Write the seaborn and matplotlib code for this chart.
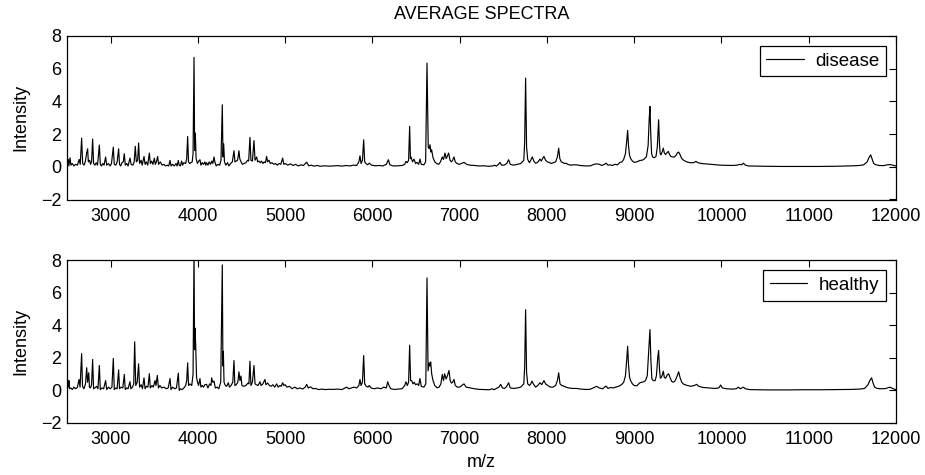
import pandas as pd
import matplotlib.pyplot as plt
import seaborn as sns

# =========================
# dados (m/z, intensidade)
# =========================
disease_points = [
    (2500, 0.1), (2515, 0.45), (2522, 0.05), (2535, 0.55), (2545, 0.1), (2560, 0.2), (2580, 0.05),
    (2600, 0.15), (2620, 0.1), (2640, 0.45), (2652, 0.15), (2668, 1.75), (2680, 0.2), (2695, 0.1),
    (2710, 0.3), (2726, 0.85), (2737, 1.1), (2745, 0.3), (2760, 0.4), (2770, 0.15), (2782, 0.3),
    (2794, 1.7), (2805, 0.2), (2820, 0.1), (2835, 0.25), (2850, 0.1), (2871, 1.33), (2882, 0.15),
    (2895, 0.05), (2910, 0.2), (2925, 0.1), (2943, 0.6), (2955, 0.1), (2975, 0.2), (2995, 0.05),
    (3010, 0.2), (3031, 1.2), (3042, 0.15), (3060, 0.1), (3075, 0.3), (3092, 1.1), (3102, 0.15),
    (3115, 0.05), (3130, 0.25), (3145, 0.3), (3157, 0.8), (3168, 0.1), (3185, 0.2), (3200, 0.05),
    (3222, 0.53), (3235, 0.15), (3255, 0.1), (3270, 0.3), (3283, 1.25), (3295, 0.3), (3310, 0.4),
    (3321, 1.45), (3332, 0.2), (3350, 0.4), (3362, 0.1), (3383, 0.63), (3395, 0.15), (3410, 0.3),
    (3425, 0.1), (3444, 0.84), (3455, 0.2), (3470, 0.35), (3485, 0.15), (3501, 0.53), (3512, 0.15),
    (3525, 0.3), (3539, 0.63), (3550, 0.15), (3570, 0.3), (3590, 0.1), (3610, 0.15), (3630, 0.05),
    (3650, 0.1), (3665, 0.05), (3681, 0.39), (3692, 0.05), (3710, 0.15), (3730, 0.05), (3750, 0.2),
    (3762, 0.05), (3776, 0.39), (3786, 0.1), (3800, 0.05), (3814, 0.35), (3825, 0.1), (3840, 0.25),
    (3860, 0.2), (3872, 0.5), (3883, 1.85), (3893, 0.3), (3905, 0.2), (3920, 0.25), (3935, 0.3),
    (3945, 0.8), (3956, 6.69), (3963, 1.0), (3971, 2.06), (3980, 0.5), (3995, 0.2), (4010, 0.35),
    (4024, 0.43), (4035, 0.1), (4050, 0.25), (4065, 0.15), (4080, 0.3), (4090, 0.1), (4100, 0.25),
    (4115, 0.1), (4130, 0.3), (4145, 0.15), (4160, 0.35), (4172, 0.2), (4185, 0.6), (4195, 0.3),
    (4210, 0.05), (4230, 0.15), (4250, 0.1), (4265, 0.4), (4280, 3.79), (4288, 0.6), (4296, 1.4),
    (4305, 0.3), (4320, 0.1), (4340, 0.25), (4355, 0.05), (4375, 0.2), (4395, 0.3), (4414, 0.98),
    (4425, 0.3), (4440, 0.35), (4455, 0.4), (4471, 0.98), (4480, 0.5), (4495, 0.3), (4510, 0.15),
    (4530, 0.2), (4550, 0.25), (4570, 0.4), (4582, 0.35), (4597, 1.8), (4608, 0.4), (4625, 0.35),
    (4643, 1.6), (4655, 0.4), (4674, 0.6), (4685, 0.3), (4700, 0.35), (4715, 0.25), (4730, 0.35),
    (4745, 0.2), (4760, 0.3), (4775, 0.25), (4788, 0.63), (4800, 0.3), (4815, 0.4), (4830, 0.2),
    (4850, 0.25), (4870, 0.15), (4890, 0.2), (4910, 0.1), (4930, 0.2), (4950, 0.15), (4972, 0.53),
    (4985, 0.15), (5000, 0.2), (5030, 0.1), (5060, 0.18), (5090, 0.08), (5120, 0.15), (5150, 0.05),
    (5180, 0.12), (5210, 0.08), (5247, 0.28), (5270, 0.06), (5300, 0.1), (5330, 0.04), (5370, 0.08),
    (5400, 0.03), (5450, 0.06), (5500, 0.04), (5550, 0.05), (5600, 0.07), (5650, 0.04), (5700, 0.08),
    (5740, 0.05), (5780, 0.1), (5820, 0.08), (5845, 0.3), (5858, 0.67), (5870, 0.2), (5886, 0.4),
    (5900, 1.65), (5912, 0.3), (5927, 0.2), (5945, 0.12), (5965, 0.22), (5990, 0.1), (6030, 0.06),
    (6080, 0.08), (6120, 0.05), (6160, 0.15), (6183, 0.43), (6200, 0.12), (6240, 0.05), (6290, 0.06),
    (6340, 0.08), (6370, 0.15), (6385, 0.33), (6400, 0.25), (6415, 0.4), (6427, 2.47), (6436, 0.5),
    (6442, 0.6), (6460, 0.3), (6477, 0.47), (6495, 0.2), (6510, 0.27), (6530, 0.15), (6545, 0.47),
    (6560, 0.15), (6590, 0.12), (6610, 0.3), (6626, 6.34), (6640, 1.2), (6650, 1.1), (6660, 1.35),
    (6670, 0.9), (6679, 1.04), (6695, 0.55), (6715, 0.3), (6736, 0.2), (6760, 0.15), (6780, 0.3),
    (6801, 0.6), (6815, 0.45), (6832, 0.84), (6845, 0.5), (6855, 0.6), (6874, 0.84), (6890, 0.4),
    (6905, 0.3), (6920, 0.4), (6935, 0.6), (6950, 0.3), (6970, 0.2), (6995, 0.15), (7020, 0.2),
    (7050, 0.27), (7080, 0.15), (7120, 0.1), (7170, 0.08), (7220, 0.05), (7280, 0.06), (7330, 0.03),
    (7380, 0.05), (7400, 0.1), (7420, 0.04), (7445, 0.15), (7462, 0.27), (7480, 0.1), (7510, 0.1),
    (7540, 0.2), (7561, 0.43), (7580, 0.15), (7620, 0.1), (7660, 0.15), (7700, 0.2), (7735, 0.4),
    (7745, 1.5), (7756, 5.42), (7767, 1.2), (7780, 0.45), (7800, 0.25), (7815, 0.4), (7833, 0.6),
    (7850, 0.35), (7870, 0.22), (7890, 0.25), (7905, 0.35), (7921, 0.47), (7935, 0.35), (7950, 0.5),
    (7966, 0.63), (7985, 0.4), (8005, 0.3), (8025, 0.27), (8050, 0.2), (8075, 0.25), (8100, 0.3),
    (8120, 0.6), (8135, 1.14), (8148, 0.5), (8165, 0.3), (8185, 0.25), (8200, 0.2), (8218, 0.22),
    (8240, 0.15), (8270, 0.1), (8300, 0.12), (8341, 0.12), (8380, 0.08), (8420, 0.06), (8460, 0.05),
    (8500, 0.06), (8540, 0.15), (8570, 0.18), (8600, 0.15), (8630, 0.08), (8660, 0.15), (8677, 0.22),
    (8700, 0.1), (8725, 0.12), (8750, 0.08), (8780, 0.15), (8810, 0.12), (8837, 0.27), (8860, 0.3),
    (8880, 0.45), (8900, 0.8), (8915, 1.6), (8925, 2.22), (8935, 1.3), (8947, 0.7), (8960, 0.5),
    (8980, 0.35), (9000, 0.27), (9030, 0.3), (9066, 0.39), (9090, 0.4), (9110, 0.45), (9124, 0.53),
    (9140, 0.6), (9160, 1.3), (9172, 2.9), (9181, 3.69), (9190, 2.0), (9200, 0.8), (9212, 0.6),
    (9230, 0.55), (9250, 0.63), (9265, 1.2), (9280, 2.87), (9290, 1.4), (9298, 0.8), (9307, 0.73),
    (9320, 0.9), (9334, 1.14), (9345, 0.85), (9360, 0.75), (9375, 0.85), (9391, 0.94), (9405, 0.75),
    (9420, 0.63), (9440, 0.6), (9460, 0.6), (9480, 0.7), (9495, 0.85), (9510, 0.9), (9525, 0.75),
    (9545, 0.5), (9570, 0.39), (9600, 0.3), (9640, 0.25), (9680, 0.25), (9708, 0.33), (9730, 0.25),
    (9770, 0.2), (9820, 0.18), (9880, 0.15), (9940, 0.12), (9983, 0.1), (10050, 0.09), (10120, 0.08),
    (10180, 0.1), (10210, 0.15), (10230, 0.12), (10251, 0.22), (10275, 0.1), (10310, 0.05),
    (10400, 0.04), (10500, 0.03), (10700, 0.02), (10900, 0.02), (11100, 0.02), (11300, 0.03),
    (11450, 0.05), (11511, 0.06), (11580, 0.08), (11630, 0.12), (11670, 0.3), (11690, 0.55),
    (11710, 0.73), (11725, 0.5), (11745, 0.2), (11770, 0.12), (11810, 0.08), (11860, 0.07),
    (11900, 0.12), (11931, 0.14), (11960, 0.1), (12000, 0.05),
]

healthy_points = [
    (2500, 0.1), (2508, 0.6), (2515, 0.2), (2522, 0.6), (2530, 0.1), (2545, 0.15), (2560, 0.05),
    (2580, 0.2), (2600, 0.1), (2620, 0.2), (2638, 0.67), (2650, 0.2), (2668, 2.26), (2678, 0.25),
    (2695, 0.1), (2712, 0.4), (2726, 1.39), (2736, 0.5), (2749, 1.08), (2758, 0.2), (2770, 0.15),
    (2782, 0.35), (2794, 1.9), (2805, 0.1), (2820, 0.15), (2840, 0.25), (2855, 0.1), (2871, 1.53),
    (2882, 0.05), (2900, 0.15), (2920, 0.1), (2943, 0.6), (2955, 0.05), (2975, 0.2), (2995, 0.1),
    (3015, 0.2), (3031, 1.96), (3042, 0.05), (3060, 0.15), (3075, 0.1), (3092, 1.26), (3102, 0.1),
    (3120, 0.2), (3140, 0.15), (3157, 0.98), (3168, 0.05), (3185, 0.15), (3200, 0.1), (3222, 0.53),
    (3232, 0.1), (3250, 0.2), (3265, 0.4), (3276, 2.98), (3288, 0.3), (3305, 0.5), (3321, 1.63),
    (3332, 0.2), (3350, 0.35), (3365, 0.1), (3383, 0.77), (3395, 0.1), (3410, 0.25), (3428, 0.2),
    (3444, 1.02), (3455, 0.15), (3475, 0.3), (3490, 0.2), (3509, 0.6), (3520, 0.3), (3535, 0.92),
    (3548, 0.15), (3565, 0.3), (3585, 0.15), (3610, 0.2), (3640, 0.1), (3660, 0.15), (3681, 0.73),
    (3692, 0.05), (3710, 0.2), (3735, 0.1), (3755, 0.15), (3776, 1.06), (3786, 0.0), (3800, 0.1),
    (3820, 0.05), (3840, 0.15), (3860, 0.3), (3872, 0.6), (3883, 1.69), (3893, 0.3), (3910, 0.4),
    (3930, 0.3), (3945, 1.0), (3956, 8.6), (3962, 2.5), (3967, 3.83), (3975, 2.8), (3985, 0.8),
    (3994, 0.55), (4008, 0.3), (4024, 0.73), (4035, 0.2), (4050, 0.3), (4065, 0.2), (4080, 0.35),
    (4100, 0.37), (4115, 0.15), (4135, 0.4), (4150, 0.3), (4158, 0.77), (4170, 0.5), (4185, 0.57),
    (4200, 0.15), (4220, 0.2), (4240, 0.1), (4262, 0.5), (4280, 7.7), (4287, 1.5), (4292, 2.4),
    (4300, 0.5), (4315, 0.3), (4330, 0.25), (4349, 0.47), (4362, 0.2), (4380, 0.3), (4400, 0.5),
    (4414, 1.83), (4424, 0.3), (4440, 0.35), (4458, 0.5), (4471, 1.14), (4482, 0.6), (4494, 0.88),
    (4505, 0.3), (4525, 0.25), (4550, 0.3), (4575, 0.45), (4585, 0.4), (4597, 1.79), (4608, 0.3),
    (4625, 0.5), (4643, 1.53), (4655, 0.4), (4670, 0.35), (4690, 0.3), (4712, 0.53), (4725, 0.3),
    (4745, 0.4), (4769, 0.67), (4780, 0.35), (4800, 0.45), (4820, 0.3), (4840, 0.25), (4860, 0.35),
    (4880, 0.2), (4903, 0.4), (4920, 0.2), (4940, 0.3), (4955, 0.25), (4972, 0.47), (4985, 0.3),
    (5000, 0.35), (5020, 0.2), (5050, 0.25), (5080, 0.1), (5110, 0.2), (5140, 0.1), (5170, 0.15),
    (5200, 0.08), (5230, 0.2), (5247, 0.37), (5265, 0.15), (5290, 0.22), (5320, 0.1), (5350, 0.12),
    (5380, 0.05), (5420, 0.08), (5460, 0.05), (5500, 0.07), (5550, 0.06), (5600, 0.08), (5650, 0.05),
    (5705, 0.2), (5730, 0.1), (5760, 0.15), (5790, 0.2), (5820, 0.15), (5845, 0.3), (5858, 0.67),
    (5870, 0.3), (5886, 0.5), (5900, 2.14), (5912, 0.4), (5930, 0.25), (5950, 0.2), (5965, 0.3),
    (5985, 0.15), (6020, 0.1), (6060, 0.15), (6100, 0.1), (6130, 0.2), (6160, 0.15), (6175, 0.53),
    (6190, 0.3), (6210, 0.1), (6250, 0.06), (6300, 0.08), (6340, 0.1), (6370, 0.3), (6385, 0.53),
    (6400, 0.3), (6415, 0.5), (6427, 2.77), (6438, 0.6), (6450, 0.6), (6465, 0.4), (6480, 0.5),
    (6495, 0.35), (6515, 0.4), (6530, 0.3), (6545, 0.73), (6560, 0.25), (6590, 0.2), (6612, 0.4),
    (6626, 6.9), (6638, 1.2), (6652, 1.69), (6660, 1.5), (6668, 1.75), (6680, 1.0), (6695, 0.6),
    (6715, 0.3), (6740, 0.16), (6765, 0.2), (6785, 0.4), (6801, 0.98), (6815, 0.6), (6828, 1.02),
    (6845, 0.7), (6860, 0.9), (6878, 1.22), (6892, 0.6), (6905, 0.45), (6920, 0.5), (6935, 0.67),
    (6950, 0.3), (6975, 0.2), (7000, 0.2), (7025, 0.3), (7050, 0.4), (7075, 0.2), (7120, 0.15),
    (7170, 0.1), (7230, 0.06), (7290, 0.05), (7340, 0.04), (7370, 0.1), (7395, 0.04), (7430, 0.15),
    (7450, 0.2), (7470, 0.37), (7490, 0.15), (7515, 0.12), (7540, 0.25), (7561, 0.47), (7580, 0.15),
    (7620, 0.12), (7660, 0.15), (7700, 0.2), (7735, 0.4), (7745, 1.4), (7756, 4.95), (7767, 1.1),
    (7780, 0.4), (7800, 0.3), (7815, 0.4), (7829, 0.57), (7845, 0.4), (7870, 0.2), (7895, 0.3),
    (7921, 0.47), (7940, 0.35), (7966, 0.6), (7985, 0.4), (8010, 0.3), (8040, 0.2), (8070, 0.2),
    (8100, 0.3), (8120, 0.6), (8135, 1.08), (8150, 0.4), (8170, 0.3), (8200, 0.25), (8218, 0.2),
    (8250, 0.15), (8290, 0.12), (8341, 0.12), (8390, 0.08), (8440, 0.06), (8490, 0.06), (8530, 0.15),
    (8570, 0.25), (8600, 0.15), (8640, 0.1), (8677, 0.27), (8700, 0.12), (8730, 0.18), (8760, 0.15),
    (8790, 0.2), (8820, 0.25), (8840, 0.3), (8860, 0.38), (8880, 0.5), (8900, 0.9), (8915, 1.9),
    (8925, 2.71), (8935, 1.6), (8947, 0.8), (8959, 0.6), (8980, 0.4), (9000, 0.3), (9030, 0.28),
    (9066, 0.47), (9090, 0.5), (9110, 0.53), (9130, 0.6), (9150, 0.9), (9165, 2.3), (9181, 3.73),
    (9192, 1.8), (9203, 0.7), (9220, 0.6), (9240, 0.6), (9255, 0.9), (9270, 2.0), (9280, 2.45),
    (9290, 1.3), (9300, 0.75), (9312, 0.8), (9325, 1.0), (9334, 1.18), (9345, 0.8), (9360, 0.75),
    (9380, 0.95), (9395, 1.02), (9410, 0.8), (9430, 0.55), (9450, 0.5), (9470, 0.6), (9490, 0.85),
    (9510, 1.14), (9525, 0.8), (9545, 0.5), (9570, 0.37), (9610, 0.3), (9650, 0.25), (9690, 0.3),
    (9716, 0.37), (9740, 0.25), (9790, 0.18), (9850, 0.15), (9920, 0.12), (9970, 0.15), (9991, 0.33),
    (10010, 0.15), (10060, 0.1), (10120, 0.08), (10170, 0.1), (10193, 0.2), (10215, 0.1),
    (10235, 0.15), (10251, 0.2), (10275, 0.1), (10320, 0.05), (10400, 0.04), (10550, 0.03),
    (10750, 0.03), (10950, 0.04), (11150, 0.04), (11350, 0.05), (11500, 0.06), (11580, 0.08),
    (11640, 0.12), (11680, 0.35), (11700, 0.6), (11721, 0.77), (11735, 0.5), (11755, 0.2),
    (11785, 0.12), (11830, 0.1), (11880, 0.11), (11931, 0.2), (11960, 0.12), (12000, 0.04),
]

x_ticks = [3000, 4000, 5000, 6000, 7000, 8000, 9000, 10000, 11000, 12000]
y_ticks = [-2, 0, 2, 4, 6, 8]

# =========================
# tabelas
# =========================
df_disease = pd.DataFrame(disease_points, columns=["mz", "intensity"])
df_healthy = pd.DataFrame(healthy_points, columns=["mz", "intensity"])

# =========================
# estilo
# =========================
sns.set_style("white")
plt.rcParams["font.family"] = ["Liberation Sans", "DejaVu Sans"]
plt.rcParams["font.size"] = 13
plt.rcParams["text.color"] = "black"
plt.rcParams["axes.labelcolor"] = "black"

fig = plt.figure(figsize=(9.25, 4.75), dpi=100)
ax1 = fig.add_axes([0.0724, 0.58, 0.8962, 0.3444])
ax2 = fig.add_axes([0.0724, 0.1095, 0.8962, 0.3431])

paineis = [(ax1, df_disease, "disease"), (ax2, df_healthy, "healthy")]

for ax, df, nome in paineis:
    sns.lineplot(
        data=df,
        x="mz",
        y="intensity",
        ax=ax,
        color="black",
        linewidth=0.85,
        estimator=None,
        sort=False,
        label=nome
    )
    ax.set_xlim(2500, 12000)
    ax.set_ylim(-2, 8)
    ax.set_xticks(x_ticks)
    ax.set_yticks(y_ticks)
    ax.set_yticklabels(["\u22122", "0", "2", "4", "6", "8"])
    ax.tick_params(axis="both", direction="in", length=5, width=0.8,
                   top=True, right=True, colors="black", labelcolor="black",
                   labelsize=13)
    ax.tick_params(axis="x", pad=6)
    ax.tick_params(axis="y", pad=4)
    for s in ax.spines.values():
        s.set_visible(True)
        s.set_color("black")
        s.set_linewidth(0.9)
    ax.set_ylabel("Intensity", fontsize=13, labelpad=8, color="black")
    ax.set_xlabel("")
    leg = ax.legend(loc="upper right", frameon=True, fancybox=False,
                    edgecolor="black", framealpha=1, fontsize=13.5,
                    handlelength=2.0, handletextpad=0.6, borderpad=0.35,
                    borderaxespad=0.55)
    leg.get_frame().set_linewidth(0.9)
    for t in leg.get_texts():
        t.set_color("black")

ax1.set_title("AVERAGE SPECTRA", fontsize=13, pad=12, color="black")
ax2.set_xlabel("m/z", fontsize=13, labelpad=4, color="black")

plt.savefig("out.png", dpi=100)
